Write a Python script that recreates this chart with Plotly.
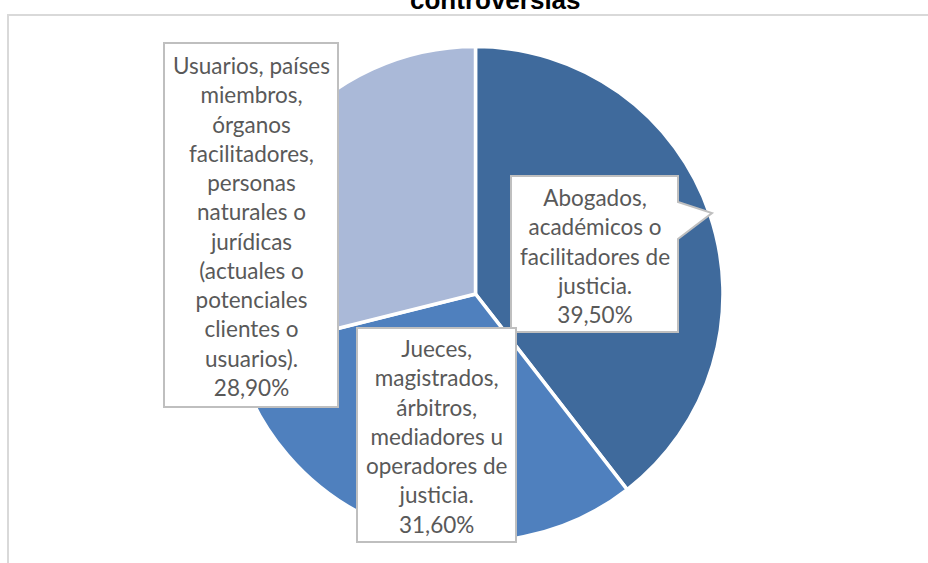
import plotly.graph_objects as go

W, H = 928, 563

# ---- data ----
categories = [
    "Abogados, académicos o facilitadores de justicia.",
    "Jueces, magistrados, árbitros, mediadores u operadores de justicia.",
    "Usuarios, países miembros, órganos facilitadores, personas naturales o jurídicas (actuales o potenciales clientes o usuarios).",
]
values = [39.50, 31.60, 28.90]
label_lines = [
    ["Abogados,", "académicos o", "facilitadores de", "justicia."],
    ["Jueces,", "magistrados,", "árbitros,", "mediadores u", "operadores de", "justicia."],
    ["Usuarios, países", "miembros,", "órganos", "facilitadores,", "personas", "naturales o",
     "jurídicas", "(actuales o", "potenciales", "clientes o", "usuarios)."],
]
title_text = "controversias"

# ---- styles ----
colors = ["#3F6A9C", "#4F80BE", "#AAB9D8"]
text_color = "#595959"
box_line = "#BFBFBF"
label_font = "Lato, Carlito, Calibri, sans-serif"


def px(x):
    return x / W


def py(y):
    return 1 - y / H


fig = go.Figure()

cx, cy, r = 475.5, 294, 247.5
fig.add_trace(go.Pie(
    labels=categories,
    values=values,
    sort=False,
    direction="clockwise",
    rotation=0,
    marker=dict(colors=colors, line=dict(color="white", width=3.5)),
    textinfo="none",
    hoverinfo="label+percent",
    showlegend=False,
    domain=dict(x=[px(cx - r), px(cx + r)], y=[py(cy + r), py(cy - r)]),
))

# callout boxes (pixel rectangles) for each label
boxes = [
    (511, 176, 678, 332),
    (357, 328, 516, 542),
    (164, 43, 338, 407),
]
pointer = (202, 712, 213, 239)  # notch on right side of first box


def fmt_pct(v):
    return f"{v:.2f}".replace(".", ",") + "%"


shapes = []
# outer chart frame
shapes.append(dict(type="rect", xref="paper", yref="paper",
                   x0=px(8), x1=px(945), y0=py(15), y1=py(600),
                   line=dict(color="#D9D9D9", width=2), fillcolor="rgba(0,0,0,0)",
                   layer="below"))

for i, (x0, y0, x1, y1) in enumerate(boxes):
    if i == 0:
        p0, tx, ty, p1 = pointer
        pts = [(x0, y0), (x1, y0), (x1, p0), (tx, ty), (x1, p1), (x1, y1), (x0, y1)]
    else:
        pts = [(x0, y0), (x1, y0), (x1, y1), (x0, y1)]
    path = "M " + " L ".join(f"{px(a):.5f},{py(b):.5f}" for a, b in pts) + " Z"
    shapes.append(dict(type="path", xref="paper", yref="paper", path=path,
                       fillcolor="white", line=dict(color=box_line, width=2),
                       layer="above"))

annotations = []
for i, (x0, y0, x1, y1) in enumerate(boxes):
    txt = "<br>".join(label_lines[i] + [fmt_pct(values[i])])
    annotations.append(dict(
        x=px((x0 + x1) / 2), y=py((y0 + y1) / 2 + 1.5),
        xref="paper", yref="paper", xanchor="center", yanchor="middle",
        text=txt, showarrow=False, align="center",
        font=dict(family=label_font, size=22.5, color=text_color),
    ))

annotations.append(dict(
    x=px(495), y=py(17), xref="paper", yref="paper",
    xanchor="center", yanchor="bottom", text="<b>" + title_text + "</b>",
    showarrow=False, font=dict(family="Liberation Sans, Arial, sans-serif", size=26, color="#000000"),
))

fig.update_layout(
    width=W, height=H,
    margin=dict(l=0, r=0, t=0, b=0),
    paper_bgcolor="white", plot_bgcolor="white",
    shapes=shapes, annotations=annotations,
)

fig.write_html("out.html", config={"displayModeBar": False},
               post_script="document.body.style.margin='0';")
